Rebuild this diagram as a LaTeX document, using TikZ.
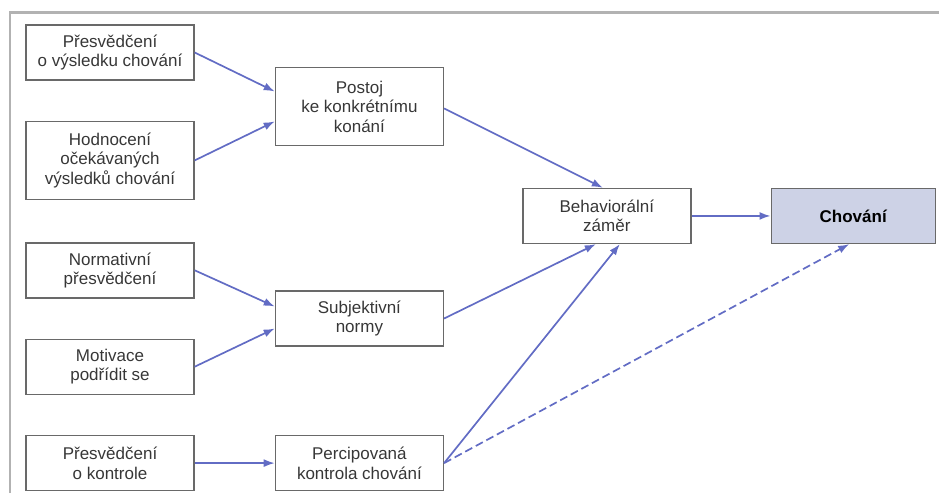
\documentclass[tikz,border=0pt]{standalone}
\usepackage{fontspec}
\setmainfont{Liberation Sans}
\usetikzlibrary{arrows.meta, positioning, calc}

\definecolor{linkblue}{RGB}{98,108,196}
\definecolor{boxgrey}{RGB}{105,105,105}
\definecolor{framegrey}{RGB}{178,178,178}
\definecolor{goalfill}{RGB}{205,210,230}
\definecolor{txtgrey}{RGB}{55,55,55}

\begin{document}
\begin{tikzpicture}[
    node distance=40pt and 80pt,
    factor/.style={rectangle, minimum width=168pt, minimum height=55pt, align=center, draw=boxgrey, line width=1.4pt, text=txtgrey, font=\fontsize{17}{19.5}\selectfont},
    tall/.style={factor, minimum height=78pt},
    goal/.style={factor, minimum width=164pt, fill=goalfill, text=black, font=\fontsize{17}{19.5}\selectfont\bfseries},
    arrow/.style={draw=linkblue, line width=1.7pt, -{Latex[length=11pt, width=8pt]}},
    guess/.style={arrow, dashed, dash pattern=on 8pt off 4pt},
]
    \useasboundingbox (0,0) rectangle (939pt,-493pt);

    % outer frame (only top and left are visible)
    \draw[framegrey, line width=2.2pt] (10pt,-493pt) -- (10pt,-12.5pt) -- (939pt,-12.5pt);

    % left column: beliefs
    \node (vysledek) [factor] at (110pt,-52.5pt) {Přesvědčení\\o výsledku chování};
    \node (hodnoceni) [tall, below=of vysledek] {Hodnocení\\očekávaných\\výsledků chování};
    \node (normativ) [factor, below=42pt of hodnoceni] {Normativní\\přesvědčení};
    \node (motivace) [factor, below=of normativ] {Motivace\\podřídit se};
    \node (kontrola) [factor, below=of motivace] {Přesvědčení\\o kontrole};

    % middle column
    \node (postoj) [tall, anchor=west, xshift=80pt] at ($(vysledek.east)!0.5!(hodnoceni.east)$) {Postoj\\ke konkrétnímu\\konání};
    \node (normy) [factor, anchor=west, xshift=80pt] at ($(normativ.east)!0.5!(motivace.east)$) {Subjektivní\\normy};
    \node (percip) [factor, right=of kontrola] {Percipovaná\\kontrola chování};

    % right part
    \node (zamer) [factor, anchor=west] at ($(postoj.east)+(78pt,-109.5pt)$) {Behaviorální\\záměr};
    \node (chovani) [goal, right=79pt of zamer] {Chování};

    \draw [arrow] (vysledek.east) -- ([yshift=15pt]postoj.west);
    \draw [arrow] (hodnoceni.east) -- ([yshift=-15pt]postoj.west);
    \draw [arrow] (normativ.east) -- ([yshift=12pt]normy.west);
    \draw [arrow] (motivace.east) -- ([yshift=-10pt]normy.west);
    \draw [arrow] (kontrola) -- (percip);
    \draw [arrow] ([yshift=-2pt]postoj.east) -- ([xshift=-4pt]zamer.north);
    \draw [arrow] (normy.east) -- ([xshift=-11pt]zamer.south);
    \draw [arrow] (percip.east) -- ([xshift=13pt]zamer.south);
    \draw [arrow] (zamer) -- (chovani);
    \draw [guess] (percip.east) -- ([xshift=-4pt]chovani.south);

\end{tikzpicture}
\end{document}
